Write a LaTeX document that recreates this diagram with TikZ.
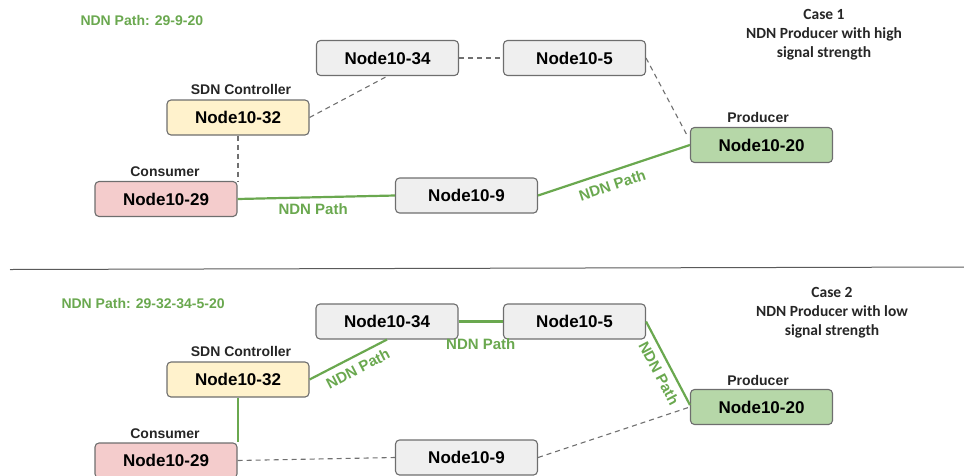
\documentclass[tikz,border=0pt]{standalone}
\usepackage{fontspec}
\setmainfont{Liberation Sans}
\newfontfamily\casefont{Carlito}
\usetikzlibrary{calc}

\definecolor{boxline}{HTML}{6E6E6E}
\definecolor{grayfill}{HTML}{EFEFEF}
\definecolor{ctrlfill}{HTML}{FFF2CC}
\definecolor{consfill}{HTML}{F4CCCC}
\definecolor{prodfill}{HTML}{B6D7A8}
\definecolor{pathgreen}{HTML}{6AA84F}
\definecolor{linkgray}{HTML}{707070}
\definecolor{rulegray}{HTML}{5A5A5A}

\tikzset{
  netnode/.style={draw=boxline, line width=1.1pt, rounded corners=4pt,
    minimum width=142pt, minimum height=35pt, inner sep=0pt,
    font=\fontsize{17}{20}\selectfont\bfseries},
  plainnode/.style={netnode, fill=grayfill},
  ctrlnode/.style={netnode, fill=ctrlfill},
  consnode/.style={netnode, fill=consfill},
  prodnode/.style={netnode, fill=prodfill},
  rolelabel/.style={font=\fontsize{14}{16}\selectfont\bfseries, text=black!85},
  pathtitle/.style={font=\fontsize{14}{16}\selectfont\bfseries, text=pathgreen, anchor=west},
  casetext/.style={font=\casefont\fontsize{15.5}{19}\selectfont\bfseries, align=center, text=black!85},
  ndnlink/.style={draw=pathgreen, line width=2.2pt},
  idlelink/.style={draw=linkgray, line width=1.1pt, dash pattern=on 5pt off 4pt},
  linklabel/.style={font=\fontsize{15}{17}\selectfont\bfseries, text=pathgreen, inner sep=2pt}
}

\begin{document}
\begin{tikzpicture}[x=1pt, y=-1pt]
\useasboundingbox (0,0) rectangle (964,475);

% ---------------- Case 1: high signal strength ----------------
\node[pathtitle] (t1) at (77,20.5) {NDN Path: 29-9-20};
\node[casetext] (c1) at (824,34.5) {Case 1\\NDN Producer with high\\signal strength};

\node[plainnode] (n34a) at (387.5,58) {Node10-34};
\node[plainnode] (n5a)  at (574.5,58) {Node10-5};
\node[ctrlnode]  (n32a) at (238,117.5) {Node10-32};
\node[consnode]  (n29a) at (166,199) {Node10-29};
\node[plainnode] (n9a)  at (466.5,195.5) {Node10-9};
\node[prodnode]  (n20a) at (761.5,145) {Node10-20};

\node[rolelabel] (r32a) at (241,89) {SDN Controller};
\node[rolelabel] (r29a) at (165,172) {Consumer};
\node[rolelabel] (r20a) at (758,117.5) {Producer};

\draw[idlelink] (n32a.east) -- (n34a.south);
\draw[idlelink] (n34a.east) -- (n5a.west);
\draw[idlelink] (n5a.east) -- ($(n20a.west)+(-2,-8)$);
\draw[idlelink] (n32a.south) -- (n32a.south |- n29a.north);
\draw[ndnlink] (n29a.east) -- node[linklabel, below=3pt, pos=0.48] (l1) {NDN Path} (n9a.west);
\draw[ndnlink] (n9a.east) -- node[linklabel, sloped, below=5pt, pos=0.46] (l2) {NDN Path} (n20a.west);

% ---------------- separator ----------------
\coordinate (sepL) at (10,269.5);
\coordinate (sepR) at (964,267);
\draw[rulegray, line width=1pt] (sepL) -- (sepR);

% ---------------- Case 2: low signal strength ----------------
\node[pathtitle] (t2) at (58,303) {NDN Path: 29-32-34-5-20};
\node[casetext] (c2) at (832,313) {Case 2\\NDN Producer with low\\signal strength};

\node[plainnode] (n34b) at (387,321.5) {Node10-34};
\node[plainnode] (n5b)  at (574.5,321.5) {Node10-5};
\node[ctrlnode]  (n32b) at (238,379.5) {Node10-32};
\node[consnode]  (n29b) at (166,460.5) {Node10-29};
\node[plainnode] (n9b)  at (466.5,457.5) {Node10-9};
\node[prodnode]  (n20b) at (761.5,407) {Node10-20};

\node[rolelabel] (r32b) at (241,351) {SDN Controller};
\node[rolelabel] (r29b) at (165,434) {Consumer};
\node[rolelabel] (r20b) at (758,380) {Producer};

\draw[ndnlink] (n32b.east) -- node[linklabel, sloped, below=4pt, pos=0.55] (l3) {NDN Path} (n34b.south);
\draw[ndnlink] (n34b.east) -- node[linklabel, below=14pt] (l4) {NDN Path} (n5b.west);
\draw[ndnlink] (n5b.east) -- node[linklabel, sloped, below=4pt, pos=0.55] (l5) {NDN Path} ($(n20b.west)+(0,-2)$);
\draw[ndnlink] (n32b.south) -- (n32b.south |- n29b.north);
\draw[idlelink] (n29b.east) -- (n9b.west);
\draw[idlelink] (n9b.east) -- (n20b.west);
\end{tikzpicture}
\end{document}
